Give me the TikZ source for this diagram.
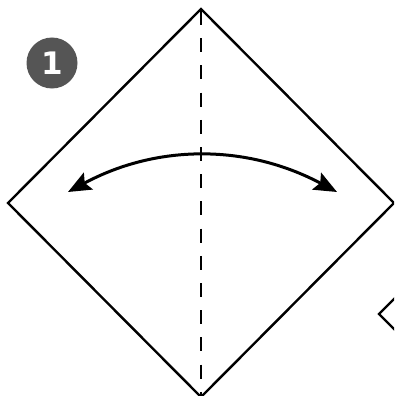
\documentclass[tikz,border=0pt]{standalone}
\usepackage{fontspec}
\newfontfamily\badgefont{DejaVu Sans}
\usetikzlibrary{arrows.meta}
\definecolor{badgegray}{HTML}{555555}
\begin{document}
\begin{tikzpicture}[x=1pt,y=-1pt,
  edge/.style={line width=2.4pt,line join=miter},
  fold/.style={line width=2.2pt,dash pattern=on 14pt off 13.2pt},
  swing/.style={line width=3pt,{Stealth[length=23pt,width=19pt,inset=4pt]}-{Stealth[length=23pt,width=19pt,inset=4pt]}},
  badge/.style={circle,fill=badgegray,minimum size=51pt,inner sep=0pt,text=white,font=\badgefont\bfseries\fontsize{31}{31}\selectfont}]
\useasboundingbox (0,0) rectangle (394,396);
\begin{scope}
\clip (0,0) rectangle (394,396);
\coordinate (T) at (201,9);
\coordinate (R) at (394,203);
\coordinate (B) at (201,397);
\coordinate (L) at (8,203);
\draw[edge] (T) -- (R) -- (B) -- (L) -- cycle;
\coordinate (ftop) at (201,11);
\coordinate (fbot) at (201,396);
\draw[fold] (ftop) -- (fbot);
\coordinate (al) at (68,192);
\coordinate (ar) at (337,192);
\draw[swing] (al) .. controls (157,144) and (247,144) .. (ar);
\coordinate (nv) at (379,314);
\coordinate (nu) at (396,297);
\coordinate (nd) at (396,331);
\draw[edge] (nu) -- (nv) -- (nd);
\end{scope}
\node[badge] (b1) at (52,63) {1};
\end{tikzpicture}
\end{document}
